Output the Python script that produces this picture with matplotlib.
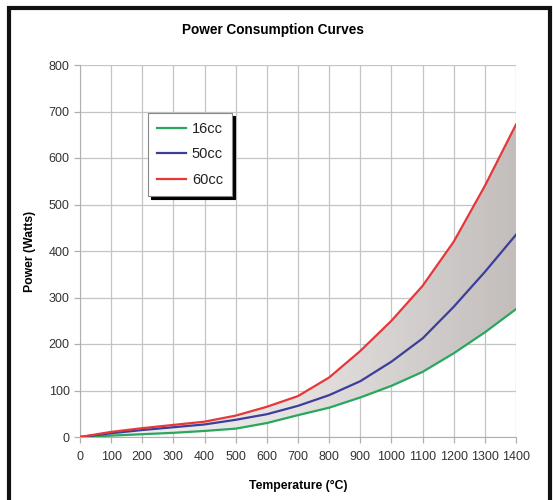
import matplotlib
matplotlib.use("Agg")
import matplotlib.pyplot as plt
import numpy as np
from matplotlib.patches import Rectangle, Polygon
from matplotlib.colors import LinearSegmentedColormap

plt.rcParams['font.family'] = ['Liberation Sans', 'DejaVu Sans']

temps = [0, 100, 200, 300, 400, 500, 600, 700, 800, 900, 1000, 1100, 1200, 1300, 1400]
p16 = [0, 3, 6, 9, 13, 18, 30, 47, 63, 85, 110, 140, 180, 225, 275]
p50 = [0, 8, 15, 21, 27, 37, 49, 67, 90, 120, 162, 212, 280, 355, 435]
p60 = [0, 11, 19, 26, 33, 46, 65, 88, 128, 185, 250, 325, 420, 540, 672]
labels = ['16cc', '50cc', '60cc']
colors = ['#2aa65e', '#3d3d9c', '#e63838']
xticks = list(range(0, 1401, 100))
yticks = list(range(0, 801, 100))

fig = plt.figure(figsize=(5.53, 5.0), dpi=100)
ax = fig.add_axes([80/553, 1-437/500, 436/553, 372/500])

ax.set_xlim(0, 1400)
ax.set_ylim(0, 800)

# gradient fill between lowest and highest curves
x = np.array(temps, float)
verts = list(zip(x, p16)) + list(zip(x[::-1], np.array(p60)[::-1]))
poly = Polygon(verts, closed=True, facecolor='none', edgecolor='none')
ax.add_patch(poly)
cmap = LinearSegmentedColormap.from_list('g', ['#f4f2f2', '#e4e1e0', '#c3bebc'])
grad = np.linspace(0, 1, 256).reshape(1, -1)
im = ax.imshow(grad, extent=[0, 1400, 0, 800], aspect='auto', cmap=cmap,
               origin='lower', zorder=1.5)
im.set_clip_path(poly)

for vals, lab, c in zip([p16, p50, p60], labels, colors):
    ax.plot(temps, vals, color=c, lw=1.6, label=lab, zorder=3)

ax.set_xticks(xticks)
ax.set_yticks(yticks)
ax.grid(True, color='#c4c4c4', lw=0.9, zorder=0)
ax.set_axisbelow(True)
for s in ax.spines.values():
    s.set_visible(False)
ax.spines['left'].set_visible(True)
ax.spines['bottom'].set_visible(True)
ax.spines['left'].set_color('#b0b0b0')
ax.spines['bottom'].set_color('#b0b0b0')
ax.tick_params(axis='both', colors='#b0b0b0', labelcolor='#333333', labelsize=9,
               length=4, width=0.9)
ax.tick_params(axis='x', pad=6)

ax.set_xlabel('Temperature (°C)', fontsize=8.8, fontweight='bold', labelpad=12)
ax.set_ylabel('Power (Watts)', fontsize=8.8, fontweight='bold', labelpad=9)
fig.text(273/553, 1-30/500, 'Power Consumption Curves', ha='center', va='center',
         fontsize=9.8, fontweight='bold')

leg = ax.legend(loc='upper left', bbox_to_anchor=(0.156, 0.871), borderaxespad=0,
                fontsize=10.5, handlelength=2.0, labelspacing=0.8, handletextpad=0.4,
                borderpad=0.6, fancybox=False, framealpha=1, edgecolor='#888888',
                shadow={'color': 'black', 'alpha': 1, 'ox': 2.5, 'oy': -2.5})
leg.get_frame().set_linewidth(0.8)
for t in leg.get_texts():
    t.set_color('#222222')
leg.set_zorder(5)

fig.patches.append(Rectangle((9/553, -0.02), 541/553, 1.02 - 8/500, transform=fig.transFigure,
                             fill=False, edgecolor='#111111', lw=3))

fig.savefig('out.png', dpi=100)
